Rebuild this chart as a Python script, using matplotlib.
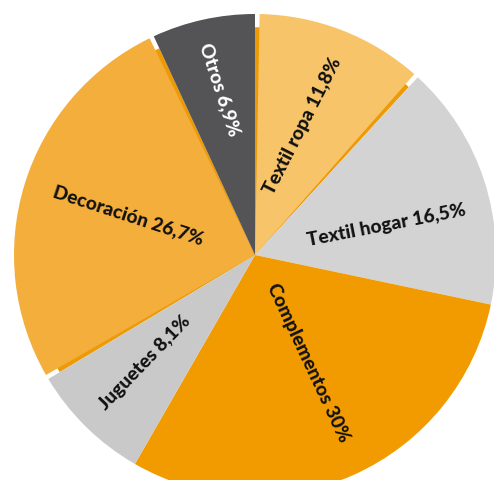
import numpy as np
import matplotlib.pyplot as plt
from matplotlib.patches import Wedge

# cuota de ventas por categoría (%)
categorias = ["Textil ropa", "Textil hogar", "Complementos", "Juguetes", "Decoración", "Otros"]
porcentajes = [11.8, 16.5, 30.0, 8.1, 26.7, 6.9]
etiquetas = ["Textil ropa 11,8%", "Textil hogar 16,5%", "Complementos 30%",
             "Juguetes 8,1%", "Decoración 26,7%", "Otros 6,9%"]

colores = ["#F7C46A", "#D3D3D3", "#F29B00", "#C9C9C9", "#F4AE3C", "#545456"]
color_texto = ["#111111"] * 5 + ["white"]

# radio y giro de cada etiqueta
radio_etq = [0.57, 0.56, 0.50, 0.64, 0.55, 0.70]
giro_etq = [63, 11, -65, 46, -18, -72]
desfase_etq = [1, -5, 2, -1, -0.5, -0.5]

fig = plt.figure(figsize=(4.94, 4.80), dpi=100)
cx, cy, r = 255, 255, 241
ax = fig.add_axes([(cx - r) / 494, (480 - cy - r) / 480, 2 * r / 494, 2 * r / 480])

wedges, _ = ax.pie(porcentajes, colors=colores, startangle=90, counterclock=False,
                   radius=1, wedgeprops=dict(linewidth=0))

# borde lateral más oscuro en las porciones naranjas claras
for i in (0, 4):
    w = wedges[i]
    t1, t2 = w.theta1, w.theta2
    sombra = Wedge((0, 0), 0.945, t1, t2, facecolor="#EE9A05", linewidth=0, zorder=0.5)
    ax.add_patch(sombra)
    w.set_theta1(t1 + 1.1)
    w.set_theta2(t2 - 1.1)
    w.set_zorder(1)

for w, txt, rr, rot, d, col in zip(wedges, etiquetas, radio_etq, giro_etq, desfase_etq, color_texto):
    ang = np.deg2rad((w.theta1 + w.theta2) / 2 + d)
    ax.text(rr * np.cos(ang), rr * np.sin(ang), txt, rotation=rot, rotation_mode="anchor",
            ha="center", va="center", fontsize=13.8, fontweight="black",
            family="Lato", color=col, zorder=3)

ax.set_xlim(-1, 1)
ax.set_ylim(-1, 1)
ax.set_aspect("equal")
ax.axis("off")

fig.savefig("out.png", dpi=100)
